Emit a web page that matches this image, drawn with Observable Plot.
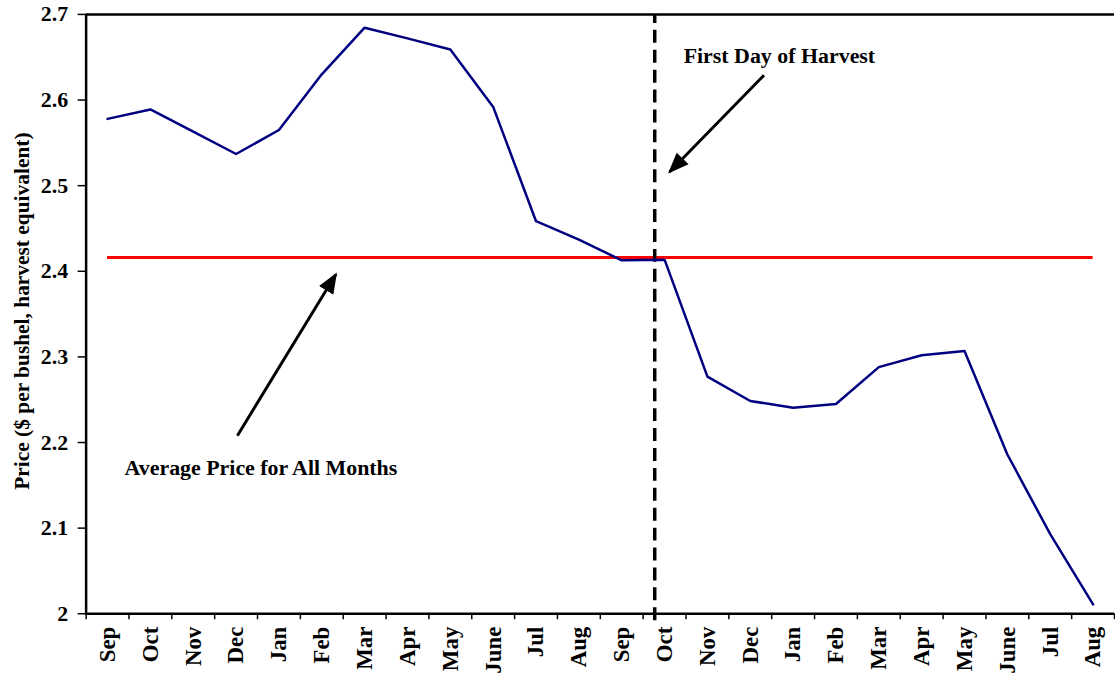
<!DOCTYPE html>
<html>
<head>
<meta charset="utf-8">
<script src="https://cdn.jsdelivr.net/npm/d3@7"></script>
<script src="https://cdn.jsdelivr.net/npm/@observablehq/plot@0.6"></script>
<style>
  html, body { margin: 0; padding: 0; background: #fff; overflow: hidden; }
  #chart svg { display: block; }
</style>
</head>
<body>
<div id="chart"></div>
<script>
// ---- data ----
const months = ["Sep","Oct","Nov","Dec","Jan","Feb","Mar","Apr","May","June","Jul","Aug",
                "Sep","Oct","Nov","Dec","Jan","Feb","Mar","Apr","May","June","Jul","Aug"];
const prices = [2.578, 2.589, 2.563, 2.537, 2.565, 2.630, 2.6845, 2.672, 2.659, 2.592, 2.4585, 2.437,
                2.4128, 2.4136, 2.277, 2.2485, 2.2407, 2.245, 2.288, 2.302, 2.307, 2.186, 2.093, 2.011];
const averagePrice = 2.416;
const harvestIndex = 12.77;          // first day of harvest, between Sep and Oct of the 2nd year
const yTicks = [2, 2.1, 2.2, 2.3, 2.4, 2.5, 2.6, 2.7];
const yLabel = "Price ($ per bushel, harvest equivalent)";
const annotations = [
  {label: "First Day of Harvest", x: 15.68, y: 2.652},
  {label: "Average Price for All Months", x: 3.58, y: 2.170}
];
const arrows = [
  {x1: 15.32, y1: 2.629, x2: 13.115, y2: 2.516},
  {x1: 3.03, y1: 2.208, x2: 5.33, y2: 2.3965}
];

// ---- derived tables ----
const series = prices.map((p, i) => ({i, month: months[i], price: p}));
const centers = months.map((_, i) => i);
const bounds = d3.range(months.length + 1).map(i => i - 0.5);
const xDomain = [-0.5, months.length - 0.5];
const yDomain = [yTicks[0], yTicks[yTicks.length - 1]];

function filledArrow(color, context) {
  const ns = "http://www.w3.org/2000/svg";
  const m = document.createElementNS(ns, "marker");
  m.setAttribute("viewBox", "-10 -5 10 10");
  m.setAttribute("markerWidth", 7);
  m.setAttribute("markerHeight", 7);
  m.setAttribute("refX", -1);
  m.setAttribute("refY", 0);
  m.setAttribute("orient", "auto");
  const p = document.createElementNS(ns, "path");
  p.setAttribute("d", "M-10,-4L0,0L-10,4Z");
  p.setAttribute("fill", color);
  p.setAttribute("stroke", "none");
  m.appendChild(p);
  return m;
}

const font = "'Liberation Serif', 'Times New Roman', serif";

const chart = Plot.plot({
  width: 1120,
  height: 681,
  marginLeft: 86,
  marginRight: 1,
  marginTop: 14,
  marginBottom: 65,
  style: {fontFamily: font, fontWeight: "bold", fontSize: "22px", color: "#000", background: "#fff"},
  x: {type: "linear", domain: xDomain},
  y: {domain: yDomain},
  marks: [
    // axes
    Plot.axisY({ticks: yTicks, tickSize: 8, tickPadding: 10, tickFormat: d => String(+d.toFixed(1)),
      strokeWidth: 1.5, label: null, fontSize: 22, fontWeight: "bold"}),
    Plot.axisX({ticks: bounds, tickSize: 6, tickFormat: () => "", strokeWidth: 1.5, label: null}),
    Plot.axisX({ticks: centers, tickSize: 0, tickPadding: 13, tickRotate: -90,
      tickFormat: i => months[i], label: null, fontSize: 23, fontWeight: "bold"}),
    // y axis title
    Plot.text([yLabel], {frameAnchor: "left", rotate: -90, dx: -64, dy: -3, text: d => d,
      textAnchor: "middle", lineAnchor: "middle",
      fontSize: 21.5, fontWeight: "bold", fill: "#000"}),
    // frame lines
    Plot.ruleX([xDomain[0]], {stroke: "#000", strokeWidth: 2.5}),
    Plot.ruleY([yDomain[0]], {stroke: "#000", strokeWidth: 2.5}),
    Plot.ruleY([yDomain[1]], {stroke: "#000", strokeWidth: 2.5}),
    // average price
    Plot.ruleY([averagePrice], {x1: 0, x2: months.length - 1, stroke: "#FF0000", strokeWidth: 3}),
    // harvest line
    Plot.ruleX([harvestIndex], {y1: yDomain[0], y2: yDomain[1], insetTop: 7, stroke: "#000",
      strokeWidth: 3.5, strokeDasharray: "13,7"}),
    // price series
    Plot.line(series, {x: "i", y: "price", stroke: "#000080", strokeWidth: 2.5}),
    // arrows
    Plot.link(arrows, {x1: "x1", y1: "y1", x2: "x2", y2: "y2", stroke: "#000", strokeWidth: 3,
      markerEnd: filledArrow}),
    // annotations
    Plot.text(annotations, {x: "x", y: "y", text: "label", fontSize: 22, fontWeight: "bold",
      fill: "#000", textAnchor: "middle"})
  ]
});
document.getElementById("chart").appendChild(chart);
</script>
</body>
</html>
